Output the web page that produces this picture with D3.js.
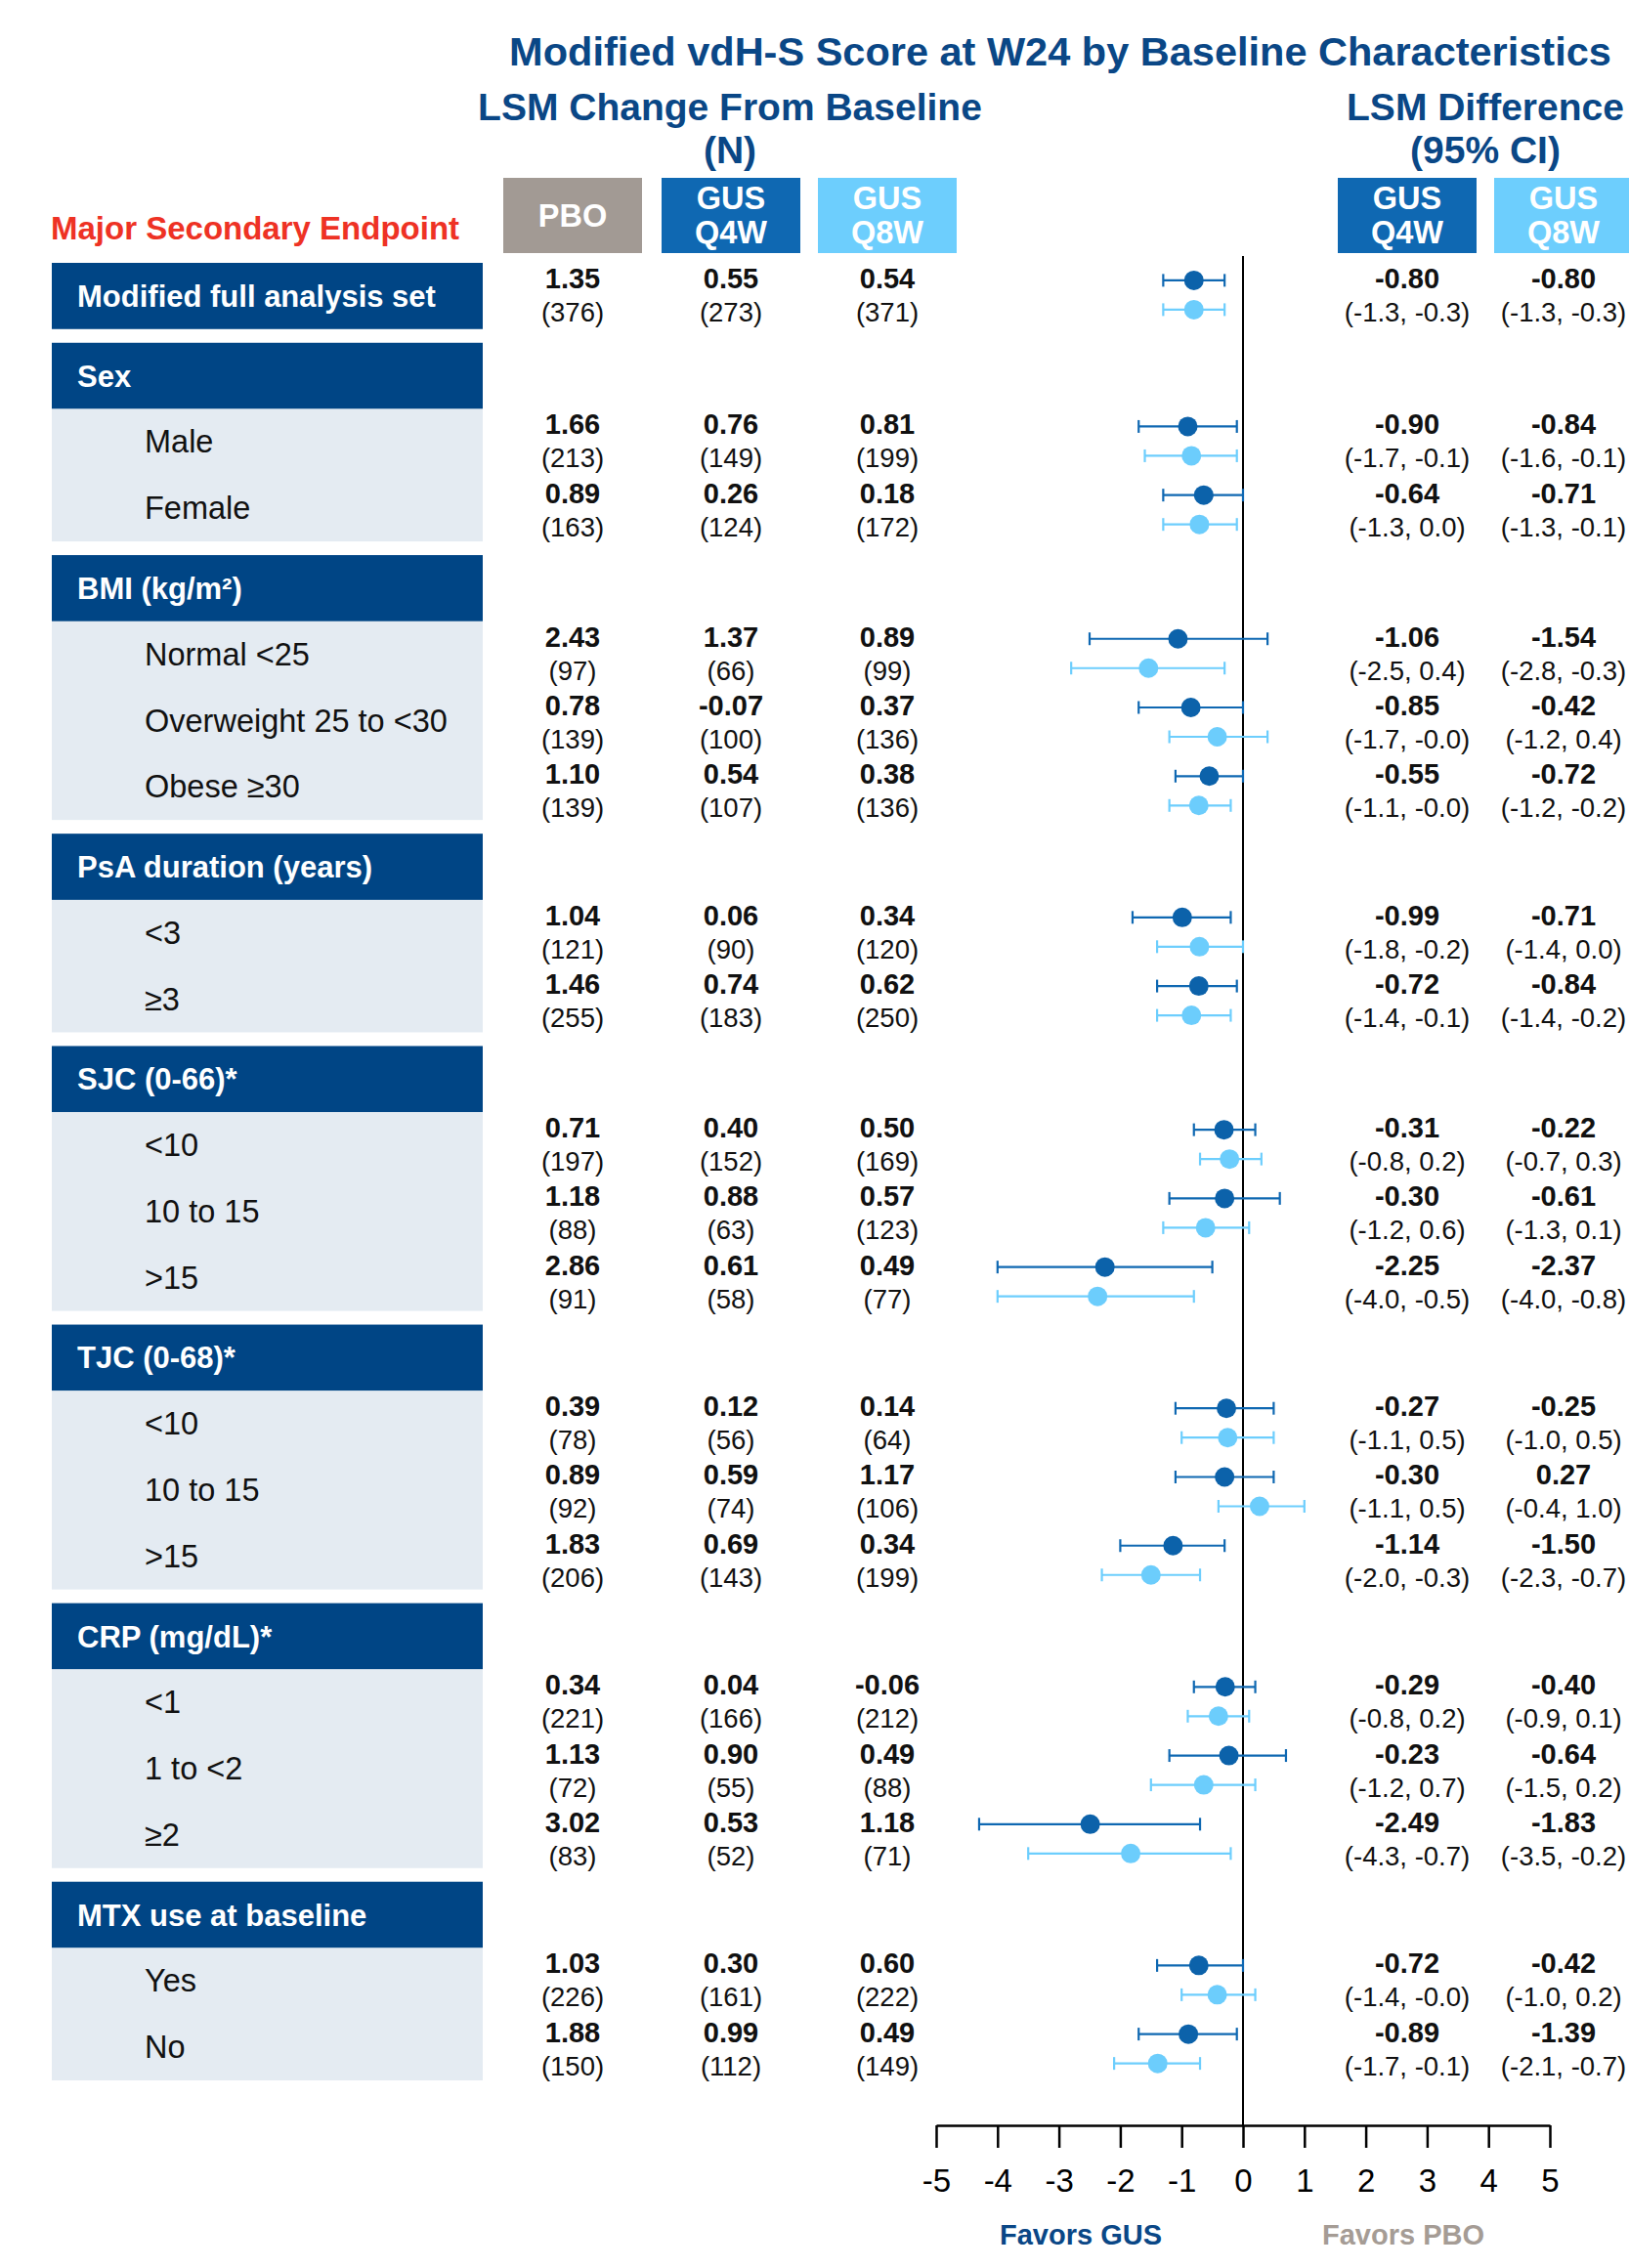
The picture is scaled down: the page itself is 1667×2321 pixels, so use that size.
<!DOCTYPE html>
<html>
<head>
<meta charset="utf-8">
<script src="https://cdn.jsdelivr.net/npm/d3@7"></script>
<style>
  html, body { margin: 0; padding: 0; background: #ffffff; }
  svg { display: block; font-family: "Liberation Sans", Arial, Helvetica, sans-serif; }
</style>
</head>
<body>
<svg id="chart" width="1667" height="2321"></svg>
<script>
// ---------------- DATA ----------------
const title = "Modified vdH-S Score at W24 by Baseline Characteristics";
const overallLabel = "Modified full analysis set";
const groupLabels = ["Sex", "BMI (kg/m²)", "PsA duration (years)", "SJC (0-66)*", "TJC (0-68)*", "CRP (mg/dL)*", "MTX use at baseline"];
const subgroupLabels = [
  ["Male", "Female"],
  ["Normal <25", "Overweight 25 to <30", "Obese ≥30"],
  ["<3", "≥3"],
  ["<10", "10 to 15", ">15"],
  ["<10", "10 to 15", ">15"],
  ["<1", "1 to <2", "≥2"],
  ["Yes", "No"]
];
// rows: overall, then subgroups in order (19 rows)
const pboLSM = [1.35, 1.66, 0.89, 2.43, 0.78, 1.10, 1.04, 1.46, 0.71, 1.18, 2.86, 0.39, 0.89, 1.83, 0.34, 1.13, 3.02, 1.03, 1.88];
const pboN   = [376, 213, 163, 97, 139, 139, 121, 255, 197, 88, 91, 78, 92, 206, 221, 72, 83, 226, 150];
const q4wLSM = [0.55, 0.76, 0.26, 1.37, -0.07, 0.54, 0.06, 0.74, 0.40, 0.88, 0.61, 0.12, 0.59, 0.69, 0.04, 0.90, 0.53, 0.30, 0.99];
const q4wN   = [273, 149, 124, 66, 100, 107, 90, 183, 152, 63, 58, 56, 74, 143, 166, 55, 52, 161, 112];
const q8wLSM = [0.54, 0.81, 0.18, 0.89, 0.37, 0.38, 0.34, 0.62, 0.50, 0.57, 0.49, 0.14, 1.17, 0.34, -0.06, 0.49, 1.18, 0.60, 0.49];
const q8wN   = [371, 199, 172, 99, 136, 136, 120, 250, 169, 123, 77, 64, 106, 199, 212, 88, 71, 222, 149];
const q4wDiff = [-0.80, -0.90, -0.64, -1.06, -0.85, -0.55, -0.99, -0.72, -0.31, -0.30, -2.25, -0.27, -0.30, -1.14, -0.29, -0.23, -2.49, -0.72, -0.89];
const q4wLow  = [-1.3, -1.7, -1.3, -2.5, -1.7, -1.1, -1.8, -1.4, -0.8, -1.2, -4.0, -1.1, -1.1, -2.0, -0.8, -1.2, -4.3, -1.4, -1.7];
const q4wHigh = [-0.3, -0.1, 0.0, 0.4, -0.0, -0.0, -0.2, -0.1, 0.2, 0.6, -0.5, 0.5, 0.5, -0.3, 0.2, 0.7, -0.7, -0.0, -0.1];
const q8wDiff = [-0.80, -0.84, -0.71, -1.54, -0.42, -0.72, -0.71, -0.84, -0.22, -0.61, -2.37, -0.25, 0.27, -1.50, -0.40, -0.64, -1.83, -0.42, -1.39];
const q8wLow  = [-1.3, -1.6, -1.3, -2.8, -1.2, -1.2, -1.4, -1.4, -0.7, -1.3, -4.0, -1.0, -0.4, -2.3, -0.9, -1.5, -3.5, -1.0, -2.1];
const q8wHigh = [-0.3, -0.1, -0.1, -0.3, 0.4, -0.2, 0.0, -0.2, 0.3, 0.1, -0.8, 0.5, 1.0, -0.7, 0.1, 0.2, -0.2, 0.2, -0.7];
const axisTicks = [-5, -4, -3, -2, -1, 0, 1, 2, 3, 4, 5];
const columnHeaders = [["PBO"], ["GUS", "Q4W"], ["GUS", "Q8W"]];
const diffHeaders = [["GUS", "Q4W"], ["GUS", "Q8W"]];

// ---------------- STYLE ----------------
const C = {
  navy: "#004585", title: "#0a4786", red: "#ee3224", pbo: "#a29a94",
  q4w: "#0f68b2", q8w: "#6dcefd", dot4: "#0c62aa", dot8: "#6ccdfc",
  subBg: "#e4ebf2", text: "#111111", favPbo: "#a59c95"
};

const svg = d3.select("#chart");

// ---------------- LAYOUT (computed) ----------------
const unit = 67.77, gap = 14, top0 = 269;
const rows = [];
const headers = [];
const subBgs = [];
let y = top0;
rows.push({ idx: 0, label: overallLabel, type: "overall", y0: y, y1: y + unit, pos: 0 });
y += unit;
let k = 1;
groupLabels.forEach((g, gi) => {
  y += gap;
  headers.push({ label: g, y0: y, y1: y + unit });
  y += unit;
  const bg = { y0: y };
  subgroupLabels[gi].forEach((s, si) => {
    rows.push({ idx: k++, label: s, type: "sub", y0: y, y1: y + unit, pos: si });
    y += unit;
  });
  bg.y1 = y;
  subBgs.push(bg);
});
rows.forEach(r => { r.c = (r.y0 + r.y1) / 2; r.v = r.c + 2.5 * r.pos; });

const boxX0 = 53, boxX1 = 494;
const colCenters = [586, 748, 908];
const diffCenters = [1440, 1600];
const boxW = 142;

const x = d3.scaleLinear().domain([-5, 5]).range([958, 1586]);
const axisY = 2175;

const f2 = v => (v < 0 || Object.is(v, -0) ? "-" : "") + Math.abs(v).toFixed(2);
const f1 = v => (v < 0 || Object.is(v, -0) ? "-" : "") + Math.abs(v).toFixed(1);

// ---------------- TITLES ----------------
svg.append("text").attr("x", 1085).attr("y", 67).attr("text-anchor", "middle")
  .attr("font-size", 41.5).attr("font-weight", "bold").attr("fill", C.title).text(title);
svg.append("text").attr("x", 747).attr("y", 123).attr("text-anchor", "middle")
  .attr("font-size", 39).attr("font-weight", "bold").attr("fill", C.title).text("LSM Change From Baseline");
svg.append("text").attr("x", 747).attr("y", 167).attr("text-anchor", "middle")
  .attr("font-size", 39).attr("font-weight", "bold").attr("fill", C.title).text("(N)");
svg.append("text").attr("x", 1520).attr("y", 123).attr("text-anchor", "middle")
  .attr("font-size", 39).attr("font-weight", "bold").attr("fill", C.title).text("LSM Difference");
svg.append("text").attr("x", 1520).attr("y", 167).attr("text-anchor", "middle")
  .attr("font-size", 39).attr("font-weight", "bold").attr("fill", C.title).text("(95% CI)");

svg.append("text").attr("x", 52).attr("y", 245)
  .attr("font-size", 33).attr("font-weight", "bold").attr("fill", C.red).text("Major Secondary Endpoint");

const hdrFills = [C.pbo, C.q4w, C.q8w];
const hdrY0 = 182, hdrY1 = 259;
function headerBox(cx, fill, lines) {
  svg.append("rect").attr("x", cx - boxW / 2).attr("y", hdrY0).attr("width", boxW)
    .attr("height", hdrY1 - hdrY0).attr("fill", fill);
  const t = svg.append("text").attr("text-anchor", "middle").attr("font-size", 32.5)
    .attr("font-weight", "bold").attr("fill", "#ffffff");
  if (lines.length === 1) {
    t.append("tspan").attr("x", cx).attr("y", 232).text(lines[0]);
  } else {
    t.append("tspan").attr("x", cx).attr("y", 214).text(lines[0]);
    t.append("tspan").attr("x", cx).attr("y", 249).text(lines[1]);
  }
}
columnHeaders.forEach((h, i) => headerBox(colCenters[i], hdrFills[i], h));
diffHeaders.forEach((h, i) => headerBox(diffCenters[i], hdrFills[i + 1], h));

// ---------------- LEFT LABEL BOXES ----------------
const overall = rows[0];
svg.append("rect").attr("x", boxX0).attr("y", overall.y0).attr("width", boxX1 - boxX0)
  .attr("height", overall.y1 - overall.y0).attr("fill", C.navy);
svg.append("text").attr("x", 79).attr("y", overall.c + 11).attr("font-size", 31)
  .attr("font-weight", "bold").attr("fill", "#ffffff").text(overall.label);

svg.selectAll("rect.hdr").data(headers).join("rect").attr("class", "hdr")
  .attr("x", boxX0).attr("y", d => d.y0).attr("width", boxX1 - boxX0)
  .attr("height", d => d.y1 - d.y0).attr("fill", C.navy);
svg.selectAll("text.hdr").data(headers).join("text").attr("class", "hdr")
  .attr("x", 79).attr("y", d => (d.y0 + d.y1) / 2 + 11).attr("font-size", 31)
  .attr("font-weight", "bold").attr("fill", "#ffffff").text(d => d.label);

svg.selectAll("rect.subbg").data(subBgs).join("rect").attr("class", "subbg")
  .attr("x", boxX0).attr("y", d => d.y0).attr("width", boxX1 - boxX0)
  .attr("height", d => d.y1 - d.y0).attr("fill", C.subBg);

const subRows = rows.filter(r => r.type === "sub");
svg.selectAll("text.sub").data(subRows).join("text").attr("class", "sub")
  .attr("x", 148).attr("y", d => d.c + 11).attr("font-size", 32.5)
  .attr("fill", C.text).text(d => d.label);

// ---------------- VALUE COLUMNS ----------------
const lsmCols = [pboLSM, q4wLSM, q8wLSM];
const nCols = [pboN, q4wN, q8wN];
lsmCols.forEach((arr, ci) => {
  svg.append("g").selectAll("text").data(rows).join("text")
    .attr("x", colCenters[ci]).attr("y", d => d.v - 8).attr("text-anchor", "middle")
    .attr("font-size", 29).attr("font-weight", "bold").attr("fill", C.text)
    .text(d => f2(arr[d.idx]));
  svg.append("g").selectAll("text").data(rows).join("text")
    .attr("x", colCenters[ci]).attr("y", d => d.v + 26).attr("text-anchor", "middle")
    .attr("font-size", 27.5).attr("fill", C.text)
    .text(d => "(" + nCols[ci][d.idx] + ")");
});

const diffCols = [[q4wDiff, q4wLow, q4wHigh], [q8wDiff, q8wLow, q8wHigh]];
diffCols.forEach((s, ci) => {
  svg.append("g").selectAll("text").data(rows).join("text")
    .attr("x", diffCenters[ci]).attr("y", d => d.v - 8).attr("text-anchor", "middle")
    .attr("font-size", 29).attr("font-weight", "bold").attr("fill", C.text)
    .text(d => f2(s[0][d.idx]));
  svg.append("g").selectAll("text").data(rows).join("text")
    .attr("x", diffCenters[ci]).attr("y", d => d.v + 26).attr("text-anchor", "middle")
    .attr("font-size", 27.5).attr("fill", C.text)
    .text(d => "(" + f1(s[1][d.idx]) + ", " + f1(s[2][d.idx]) + ")");
});

// ---------------- FOREST PLOT ----------------
svg.append("line").attr("x1", x(0)).attr("x2", x(0)).attr("y1", 262).attr("y2", axisY)
  .attr("stroke", "#000").attr("stroke-width", 2);

const series = [
  { est: q4wDiff, lo: q4wLow, hi: q4wHigh, color: C.dot4, line: C.q4w, dy: -16 },
  { est: q8wDiff, lo: q8wLow, hi: q8wHigh, color: C.dot8, line: C.q8w, dy: 14 }
];
series.forEach(s => {
  const g = svg.append("g");
  const eb = g.selectAll("g").data(rows).join("g");
  eb.append("line").attr("x1", d => x(s.lo[d.idx])).attr("x2", d => x(s.hi[d.idx]))
    .attr("y1", d => d.v + s.dy).attr("y2", d => d.v + s.dy)
    .attr("stroke", s.line).attr("stroke-width", 2.2);
  eb.append("line").attr("x1", d => x(s.lo[d.idx])).attr("x2", d => x(s.lo[d.idx]))
    .attr("y1", d => d.v + s.dy - 6.5).attr("y2", d => d.v + s.dy + 6.5)
    .attr("stroke", s.line).attr("stroke-width", 2.2);
  eb.append("line").attr("x1", d => x(s.hi[d.idx])).attr("x2", d => x(s.hi[d.idx]))
    .attr("y1", d => d.v + s.dy - 6.5).attr("y2", d => d.v + s.dy + 6.5)
    .attr("stroke", s.line).attr("stroke-width", 2.2);
  eb.append("circle").attr("cx", d => x(s.est[d.idx])).attr("cy", d => d.v + s.dy)
    .attr("r", 10).attr("fill", s.color);
});

// axis
const axis = d3.axisBottom(x).tickValues(axisTicks).tickSize(23).tickSizeOuter(0)
  .tickPadding(22).tickFormat(d => String(d));
const ax = svg.append("g").attr("transform", `translate(0,${axisY})`).call(axis);
ax.select(".domain").attr("stroke", "#000").attr("stroke-width", 2.5);
ax.selectAll(".tick line").attr("stroke", "#000").attr("stroke-width", 2.5);
ax.selectAll(".tick text").attr("font-size", 33).attr("fill", "#000")
  .attr("font-family", "Liberation Sans, Arial, sans-serif");

svg.append("text").attr("x", 1106).attr("y", 2297).attr("text-anchor", "middle")
  .attr("font-size", 29).attr("font-weight", "bold").attr("fill", C.title).text("Favors GUS");
svg.append("text").attr("x", 1436).attr("y", 2297).attr("text-anchor", "middle")
  .attr("font-size", 29).attr("font-weight", "bold").attr("fill", C.favPbo).text("Favors PBO");
</script>
</body>
</html>
